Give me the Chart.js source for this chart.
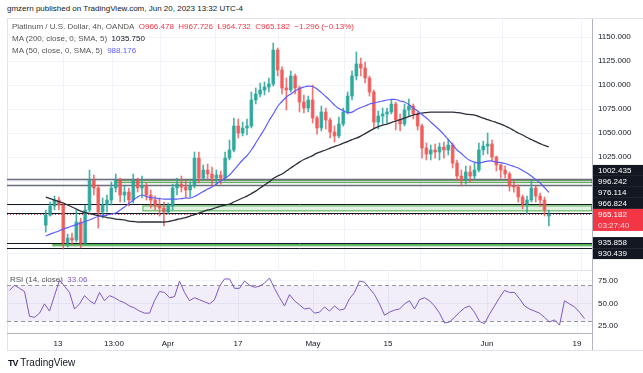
<!DOCTYPE html>
<html>
<head>
<meta charset="utf-8">
<script src="https://cdn.jsdelivr.net/npm/chart.js@4.4.1/dist/chart.umd.min.js"></script>
<style>
  body { margin: 0; width: 643px; height: 373px; background: #fff; position: relative; overflow: hidden;
         font-family: "Liberation Sans", "DejaVu Sans", sans-serif; color: #131722; }
  .abs { position: absolute; white-space: nowrap; }
  #frame { left: 7px; top: 18px; width: 640px; height: 331px; border-left: 1px solid #e0e3eb;
           border-top: 1px solid #e0e3eb; border-bottom: 1px solid #e0e3eb; }
  .leg { font-size: 8px; line-height: 12px; color: #555; }
  .red { color: #f23645; }
  canvas { position: absolute; left: 0; }
</style>
</head>
<body>
<div id="frame" class="abs"></div>
<div class="abs" style="left:592px;top:331px;width:1px;height:19px;background:#b2b5be"></div>
<div class="abs" style="left:7px;top:4px;font-size:8px;">gmzern published on TradingView.com, Jun 20, 2023 13:32 UTC-4</div>
<canvas id="mainChart" width="643" height="282" style="top:0"></canvas>
<canvas id="rsiChart" width="643" height="115" style="top:258px"></canvas>
<div class="abs leg" style="left:12px;top:21px;">
  <div>Platinum / U.S. Dollar, 4h, OANDA&nbsp; <span class="red">O966.478&nbsp; H967.726&nbsp; L964.732&nbsp; C965.182&nbsp; −1.296 (−0.13%)</span></div>
  <div>MA (200, close, 0, SMA, 5)&nbsp; <span style="color:#131722">1035.750</span></div>
  <div>MA (50, close, 0, SMA, 5)&nbsp; <span style="color:#5b5bff">988.176</span></div>
</div>
<div class="abs leg" style="left:10px;top:274px;">RSI (14, close)&nbsp; <span style="color:#7e57c2">33.06</span></div>
<div class="abs" style="left:8px;top:357px;font-size:10px;"><b style="font-size:9px;letter-spacing:-1px">TV</b>&nbsp;TradingView</div>
<script>
const openP = [954.0, 964.5, 973.9, 980.2, 975.0, 935.4, 940.6, 938.5, 957.3, 935.4,
  969.8, 1001.0, 992.7, 967.7, 975.0, 980.2, 992.7, 1001.0, 985.4, 988.5,
  980.2, 1001.0, 992.7, 994.8, 985.4, 980.2, 973.9, 971.8, 967.7, 973.9,
  992.7, 996.8, 993.7, 990.6, 994.8, 1023.9, 1003.1, 1011.4, 1007.3, 1003.1,
  1006.2, 1003.1, 1023.9, 1032.3, 1057.3, 1050.0, 1055.2, 1057.3, 1084.4, 1090.6,
  1094.8, 1097.9, 1101.0, 1136.4, 1115.6, 1096.9, 1094.8, 1109.4, 1096.9, 1082.3,
  1076.0, 1084.4, 1065.6, 1055.2, 1071.9, 1063.5, 1051.0, 1046.9, 1059.4, 1071.9,
  1088.5, 1109.4, 1121.9, 1117.7, 1107.3, 1092.7, 1061.4, 1067.7, 1069.8, 1071.9,
  1080.2, 1063.5, 1059.4, 1074.0, 1078.1, 1069.8, 1057.3, 1034.4, 1028.1, 1032.3,
  1030.2, 1035.4, 1032.3, 1037.5, 1018.7, 1005.2, 1001.0, 1009.4, 1005.2, 1011.4,
  1032.3, 1036.4, 1038.5, 1025.0, 1016.7, 1011.4, 1007.3, 994.8, 993.7, 983.3,
  976.0, 980.2, 992.7, 984.3, 980.2, 963.5];
const highP = [969.8, 978.1, 984.3, 983.3, 977.1, 944.7, 945.8, 969.8, 961.4, 975.0,
  1011.4, 1006.2, 995.8, 982.3, 985.4, 998.9, 1007.3, 1003.1, 994.8, 992.7,
  1007.3, 1003.1, 1005.2, 997.9, 990.6, 984.3, 982.3, 978.1, 977.1, 996.8,
  1003.1, 1005.2, 1000.0, 998.9, 1030.2, 1030.2, 1016.7, 1017.7, 1014.6, 1011.4,
  1010.4, 1030.2, 1042.7, 1065.6, 1064.6, 1061.4, 1064.6, 1092.7, 1096.9, 1102.1,
  1103.1, 1107.3, 1143.7, 1138.5, 1118.8, 1107.3, 1114.6, 1111.5, 1098.9, 1089.6,
  1088.5, 1100.0, 1067.7, 1078.1, 1076.0, 1065.6, 1057.3, 1066.6, 1076.0, 1092.7,
  1114.6, 1134.4, 1128.1, 1123.9, 1109.4, 1094.8, 1072.9, 1076.0, 1076.0, 1085.4,
  1082.3, 1069.8, 1080.2, 1085.4, 1080.2, 1071.9, 1059.4, 1039.6, 1037.5, 1038.5,
  1039.6, 1040.6, 1043.7, 1039.6, 1021.9, 1011.4, 1015.6, 1015.6, 1018.7, 1039.6,
  1041.6, 1050.0, 1042.7, 1026.0, 1017.7, 1015.6, 1009.4, 1000.0, 995.8, 985.4,
  984.3, 1001.0, 994.8, 987.5, 983.3, 969.8];
const lowP = [946.8, 963.5, 969.8, 969.8, 929.1, 931.2, 933.3, 936.4, 930.2, 933.3,
  967.7, 985.4, 951.0, 961.4, 967.7, 975.0, 988.5, 978.1, 978.1, 973.9,
  977.1, 988.5, 982.3, 980.2, 971.8, 969.8, 963.5, 953.1, 965.6, 969.8,
  985.4, 988.5, 982.3, 983.3, 992.7, 997.9, 1001.0, 1001.0, 994.8, 995.8,
  996.8, 1000.0, 1021.9, 1030.2, 1044.8, 1046.9, 1047.9, 1055.2, 1080.2, 1087.5,
  1089.6, 1092.7, 1098.9, 1109.4, 1090.6, 1074.0, 1092.7, 1090.6, 1071.9, 1070.8,
  1071.9, 1060.4, 1048.9, 1052.1, 1054.2, 1044.8, 1040.6, 1044.8, 1057.3, 1069.8,
  1084.4, 1105.2, 1109.4, 1102.1, 1088.5, 1055.2, 1054.2, 1059.4, 1060.4, 1069.8,
  1053.1, 1052.1, 1057.3, 1067.7, 1064.6, 1053.1, 1023.9, 1021.9, 1021.9, 1023.9,
  1021.9, 1023.9, 1027.1, 1013.5, 1001.0, 994.8, 996.8, 998.9, 1002.0, 1009.4,
  1027.1, 1028.1, 1020.8, 1010.4, 1003.1, 1003.1, 989.6, 988.5, 978.1, 970.8,
  965.6, 978.1, 978.1, 973.9, 963.5, 953.1];
const closeP = [964.5, 973.9, 980.2, 975.0, 935.4, 940.6, 938.5, 957.3, 935.4, 969.8,
  1001.0, 992.7, 967.7, 975.0, 980.2, 992.7, 1001.0, 985.4, 988.5, 980.2,
  1001.0, 992.7, 994.8, 985.4, 980.2, 973.9, 971.8, 967.7, 973.9, 992.7,
  996.8, 993.7, 990.6, 994.8, 1023.9, 1003.1, 1011.4, 1007.3, 1003.1, 1006.2,
  1003.1, 1023.9, 1032.3, 1057.3, 1050.0, 1055.2, 1057.3, 1084.4, 1090.6, 1094.8,
  1097.9, 1101.0, 1136.4, 1115.6, 1096.9, 1094.8, 1109.4, 1096.9, 1082.3, 1076.0,
  1084.4, 1065.6, 1055.2, 1071.9, 1063.5, 1051.0, 1046.9, 1059.4, 1071.9, 1088.5,
  1109.4, 1121.9, 1117.7, 1107.3, 1092.7, 1061.4, 1067.7, 1069.8, 1071.9, 1080.2,
  1063.5, 1059.4, 1074.0, 1078.1, 1069.8, 1057.3, 1034.4, 1028.1, 1032.3, 1030.2,
  1035.4, 1032.3, 1037.5, 1018.7, 1005.2, 1001.0, 1009.4, 1005.2, 1011.4, 1032.3,
  1036.4, 1038.5, 1025.0, 1016.7, 1011.4, 1007.3, 994.8, 993.7, 983.3, 976.0,
  980.2, 992.7, 984.3, 980.2, 969.8, 965.182];
const ma200 = [983.3, 981.7, 980.2, 978.6, 977.1, 975.0, 972.9, 970.8, 968.7, 967.1,
  966.1, 965.1, 964.0, 963.0, 961.9, 961.4, 960.4, 959.9, 959.4, 958.3,
  957.8, 957.3, 957.3, 957.3, 957.3, 957.3, 957.3, 957.3, 957.8, 958.8,
  959.9, 960.9, 961.9, 963.5, 965.1, 966.6, 968.2, 969.8, 970.8, 972.4,
  973.9, 975.0, 976.0, 978.1, 980.2, 982.3, 984.3, 986.9, 989.5, 992.7,
  995.8, 998.9, 1002.6, 1005.2, 1007.3, 1010.4, 1013.5, 1016.7, 1019.7, 1022.4,
  1024.4, 1026.5, 1029.1, 1030.7, 1032.3, 1034.3, 1035.9, 1037.5, 1039.5, 1041.1,
  1043.2, 1044.7, 1046.8, 1049.4, 1052.0, 1054.6, 1056.7, 1058.3, 1059.3, 1060.9,
  1062.5, 1064.0, 1065.6, 1067.1, 1068.7, 1069.7, 1070.8, 1071.3, 1071.8, 1071.8,
  1071.8, 1071.8, 1071.8, 1071.8, 1071.3, 1070.8, 1069.7, 1069.2, 1068.7, 1067.1,
  1065.6, 1064.0, 1062.5, 1060.9, 1059.3, 1057.3, 1055.2, 1052.6, 1050.0, 1047.9,
  1045.3, 1043.2, 1041.1, 1039.0, 1037.0, 1035.75];
const ma50 = [942.7, 944.7, 946.3, 947.9, 950.0, 951.5, 953.1, 954.6, 956.2, 957.8,
  959.4, 961.4, 963.0, 964.0, 964.5, 965.6, 966.6, 969.8, 972.9, 976.5,
  980.2, 983.3, 985.4, 983.8, 982.8, 982.3, 981.7, 981.2, 981.2, 981.2,
  981.2, 981.7, 982.3, 982.3, 983.8, 986.4, 989.0, 991.6, 993.7, 996.8,
  1000.0, 1003.1, 1006.2, 1011.4, 1016.7, 1021.9, 1026.5, 1032.3, 1039.6, 1046.9,
  1054.2, 1062.5, 1069.8, 1077.6, 1082.8, 1087.5, 1090.6, 1093.7, 1096.3, 1097.9,
  1098.9, 1098.4, 1095.8, 1092.1, 1088.0, 1083.8, 1079.1, 1075.5, 1073.4, 1071.3,
  1071.8, 1074.4, 1076.5, 1078.1, 1080.2, 1081.2, 1082.3, 1083.3, 1084.4, 1084.9,
  1084.9, 1083.3, 1082.3, 1079.6, 1076.0, 1072.9, 1069.2, 1065.6, 1061.4, 1057.3,
  1053.1, 1048.4, 1043.2, 1038.0, 1032.3, 1028.6, 1024.4, 1021.3, 1019.7, 1018.7,
  1019.7, 1020.8, 1020.8, 1019.7, 1019.2, 1018.2, 1016.7, 1015.1, 1013.5, 1010.9,
  1008.3, 1005.2, 1001.5, 997.9, 993.2, 988.176];
const rsi14 = [64.4, 70.2, 66.7, 63.2, 35.6, 34.4, 39.1, 49.4, 41.4, 58.6,
  75.9, 69.0, 62.1, 43.7, 49.4, 58.6, 52.9, 49.4, 62.1, 52.9,
  58.6, 56.3, 52.9, 50.6, 47.1, 44.8, 41.4, 39.1, 39.1, 52.9,
  63.2, 62.1, 56.3, 57.5, 74.8, 62.1, 52.9, 56.3, 54.0, 51.7,
  49.4, 54.0, 69.0, 77.1, 77.1, 66.7, 66.7, 74.8, 70.2, 67.9,
  69.0, 72.5, 78.2, 66.7, 56.3, 47.1, 59.8, 52.9, 48.3, 43.7,
  44.8, 39.1, 40.2, 46.0, 41.4, 47.1, 42.5, 43.7, 55.2, 62.1,
  74.8, 73.6, 66.7, 59.8, 49.4, 36.8, 40.2, 42.5, 43.7, 49.4,
  52.9, 43.7, 54.0, 56.3, 52.9, 47.1, 39.1, 28.1, 29.3, 34.4,
  40.2, 44.8, 47.1, 40.2, 29.8, 27.5, 37.9, 47.1, 56.3, 64.4,
  62.1, 62.1, 55.2, 47.1, 43.7, 41.4, 39.1, 34.4, 29.3, 31.6,
  25.8, 52.9, 49.4, 46.0, 40.2, 33.06];

const timeLabels = ["13", "13:00", "Apr", "17", "May", "15", "Jun", "19"];
const timeTickPos = [9.7, 20.9, 31.7, 45.7, 60.7, 75.7, 95.5, 113.5];
const priceTicks = [925, 950, 975, 1000, 1025, 1050, 1075, 1100, 1125, 1150];
const rsiTicks = [25, 50, 75];
const levelValues = [1002.435, 996.242, 976.114, 966.824, 935.858, 930.439];
const zoneHigh = [1002.435, 976.114, 935.858];
const zoneLow = [996.242, 966.824, 930.439];
const zoneStart = [16.1, 22.1, 1.5];
const countdown = "03:27:40";

const FONT = "'Liberation Sans', 'DejaVu Sans', sans-serif";
const UP = "rgba(38, 166, 154, 0.85)";
const DOWN = "rgba(239, 83, 80, 0.8)";
const idx = closeP.map((_, i) => i);
const candleColors = idx.map((i) => (closeP[i] >= openP[i] ? UP : DOWN));

// zones + horizontal levels behind the candles
const zonesPlugin = {
  id: "zones",
  beforeDatasetsDraw(chart) {
    const { ctx, chartArea, scales } = chart;
    const x = scales.x;
    const y = scales.y;
    ctx.save();
    ctx.beginPath();
    ctx.rect(chartArea.left, chartArea.top, chartArea.right - chartArea.left, chartArea.bottom - chartArea.top);
    ctx.clip();
    const fills = ["rgba(242, 54, 69, 0.14)", "rgba(76, 175, 80, 0.17)", "rgba(76, 175, 80, 0.17)"];
    zoneHigh.forEach((hi, k) => {
      const x0 = x.getPixelForValue(zoneStart[k]);
      const y0 = y.getPixelForValue(hi) + 1.5;
      const y1 = y.getPixelForValue(zoneLow[k]) - 1.5;
      ctx.fillStyle = fills[k];
      ctx.fillRect(x0, y0, chartArea.right - x0, y1 - y0);
      ctx.strokeStyle = "#4caf50";
      ctx.lineWidth = 1;
      ctx.strokeRect(x0 + 0.5, y0 + 0.5, chartArea.right - x0 - 1, y1 - y0 - 1);
    });
    levelValues.forEach((v, k) => {
      const py = Math.round(y.getPixelForValue(v)) + 0.5;
      ctx.strokeStyle = k < 2 ? "#6a6d78" : "#131722";
      ctx.lineWidth = k < 2 ? 1.5 : 1;
      ctx.beginPath();
      ctx.moveTo(chartArea.left, py);
      ctx.lineTo(chartArea.right, py);
      ctx.stroke();
    });
    // last price dotted line
    const lastY = Math.round(y.getPixelForValue(closeP[closeP.length - 1])) + 0.5;
    ctx.strokeStyle = "#f23645";
    ctx.setLineDash([1, 2]);
    ctx.beginPath();
    ctx.moveTo(chartArea.left, lastY);
    ctx.lineTo(chartArea.right, lastY);
    ctx.stroke();
    ctx.restore();
  },
};

// boxes on the price axis, pushed apart so they do not overlap
const priceLabelsPlugin = {
  id: "priceLabels",
  afterDraw(chart) {
    const { ctx, chartArea, scales } = chart;
    const y = scales.y;
    const last = closeP[closeP.length - 1];
    const items = levelValues.map((v) => ({ v, cur: false }));
    items.push({ v: last, cur: true });
    items.sort((a, b) => b.v - a.v);
    const h = 11;
    const a = items.findIndex((it) => it.cur);
    items[a].py = y.getPixelForValue(last);
    for (let i = a - 1; i >= 0; i--) {
      items[i].py = Math.min(y.getPixelForValue(items[i].v), items[i + 1].py - h);
    }
    for (let i = a + 1; i < items.length; i++) {
      const gap = items[i - 1].cur ? 2 * h : h;
      items[i].py = Math.max(y.getPixelForValue(items[i].v), items[i - 1].py + gap);
    }
    ctx.save();
    ctx.font = "8px " + FONT;
    ctx.textBaseline = "middle";
    items.forEach((it) => {
      const x0 = chartArea.right + 1;
      if (it.cur) {
        ctx.fillStyle = "#f23645";
        ctx.fillRect(x0, it.py - h / 2, chart.width - x0, 2 * h);
        ctx.fillStyle = "#fff";
        ctx.fillText(it.v.toFixed(3), x0 + 5, it.py + 0.5);
        ctx.fillStyle = "rgba(255,255,255,0.8)";
        ctx.fillText(countdown, x0 + 5, it.py + h + 0.5);
      } else {
        ctx.fillStyle = "#131722";
        ctx.fillRect(x0, it.py - h / 2, chart.width - x0, h);
        ctx.fillStyle = "#fff";
        ctx.fillText(it.v.toFixed(3), x0 + 5, it.py + 0.5);
      }
    });
    ctx.restore();
  },
};

const rsiBandPlugin = {
  id: "rsiBand",
  beforeDatasetsDraw(chart) {
    const { ctx, chartArea, scales } = chart;
    const y70 = scales.y.getPixelForValue(70);
    const y30 = scales.y.getPixelForValue(30);
    ctx.save();
    ctx.fillStyle = "rgba(126, 87, 194, 0.1)";
    ctx.fillRect(chartArea.left, y70, chartArea.right - chartArea.left, y30 - y70);
    ctx.strokeStyle = "#9598a1";
    ctx.lineWidth = 1;
    ctx.setLineDash([4, 3]);
    [y70, y30].forEach((py) => {
      ctx.beginPath();
      ctx.moveTo(chartArea.left, Math.round(py) + 0.5);
      ctx.lineTo(chartArea.right, Math.round(py) + 0.5);
      ctx.stroke();
    });
    ctx.restore();
  },
};

function setTimeTicks(scale) {
  scale.ticks = timeTickPos.map((v) => ({ value: v }));
}

new Chart(document.getElementById("mainChart"), {
  type: "bar",
  data: {
    datasets: [
      {
        label: "MA 50",
        type: "line",
        data: idx.map((i) => ({ x: i, y: ma50[i] })),
        borderColor: "#5b5bff",
        borderWidth: 1.2,
        pointRadius: 0,
        tension: 0.4,
        order: 0,
      },
      {
        label: "MA 200",
        type: "line",
        data: idx.map((i) => ({ x: i, y: ma200[i] })),
        borderColor: "#2a2e39",
        borderWidth: 1.3,
        pointRadius: 0,
        tension: 0.4,
        order: 1,
      },
      {
        label: "body",
        data: idx.map((i) => ({ x: i, y: [openP[i], closeP[i]] })),
        backgroundColor: candleColors,
        barThickness: 3,
        minBarLength: 1,
        grouped: false,
        order: 2,
      },
      {
        label: "wick",
        data: idx.map((i) => ({ x: i, y: [lowP[i], highP[i]] })),
        backgroundColor: candleColors,
        barThickness: 1,
        grouped: false,
        order: 3,
      },
    ],
  },
  options: {
    responsive: false,
    animation: false,
    devicePixelRatio: 1,
    events: [],
    layout: { padding: { left: 7, top: 19, right: 0, bottom: 12 } },
    plugins: { legend: { display: false }, tooltip: { enabled: false } },
    scales: {
      x: {
        type: "linear",
        min: -0.5,
        max: 116.5,
        afterBuildTicks: setTimeTicks,
        ticks: { display: false },
        grid: { color: "#f0f3fa", drawTicks: false },
        border: { display: true, color: "#e0e3eb" },
        afterFit: (s) => { s.height = 0; },
      },
      y: {
        position: "right",
        min: 907.3,
        max: 1168.75,
        afterBuildTicks: (s) => { s.ticks = priceTicks.map((v) => ({ value: v })); },
        ticks: {
          callback: (v) => v.toFixed(3),
          color: "#131722",
          font: { size: 8, family: FONT },
          padding: 6,
        },
        grid: { color: "#f0f3fa", drawTicks: false },
        border: { color: "#b2b5be" },
        afterFit: (s) => { s.width = 51; },
      },
    },
  },
  plugins: [zonesPlugin, priceLabelsPlugin],
});

new Chart(document.getElementById("rsiChart"), {
  type: "line",
  data: {
    datasets: [
      {
        label: "RSI",
        data: idx.map((i) => ({ x: i, y: rsi14[i] })),
        borderColor: "#7e57c2",
        borderWidth: 1,
        pointRadius: 0,
        tension: 0,
      },
    ],
  },
  options: {
    responsive: false,
    animation: false,
    devicePixelRatio: 1,
    events: [],
    layout: { padding: { left: 7, top: 12, right: 0, bottom: 0 } },
    plugins: { legend: { display: false }, tooltip: { enabled: false } },
    scales: {
      x: {
        type: "linear",
        min: -0.5,
        max: 116.5,
        afterBuildTicks: setTimeTicks,
        ticks: {
          callback: (v, i) => timeLabels[i],
          color: "#131722",
          font: { size: 8, family: FONT },
          padding: 6,
          maxRotation: 0,
          autoSkip: false,
        },
        grid: { color: "#f0f3fa", drawTicks: false },
        border: { color: "#b2b5be" },
        afterFit: (s) => { s.height = 40; },
      },
      y: {
        position: "right",
        min: 17,
        max: 87.1,
        afterBuildTicks: (s) => { s.ticks = rsiTicks.map((v) => ({ value: v })); },
        ticks: {
          callback: (v) => v.toFixed(2),
          color: "#131722",
          font: { size: 8, family: FONT },
          padding: 6,
        },
        grid: { color: "#f0f3fa", drawTicks: false },
        border: { color: "#b2b5be" },
        afterFit: (s) => { s.width = 51; },
      },
    },
  },
  plugins: [rsiBandPlugin],
});
</script>
</body>
</html>
